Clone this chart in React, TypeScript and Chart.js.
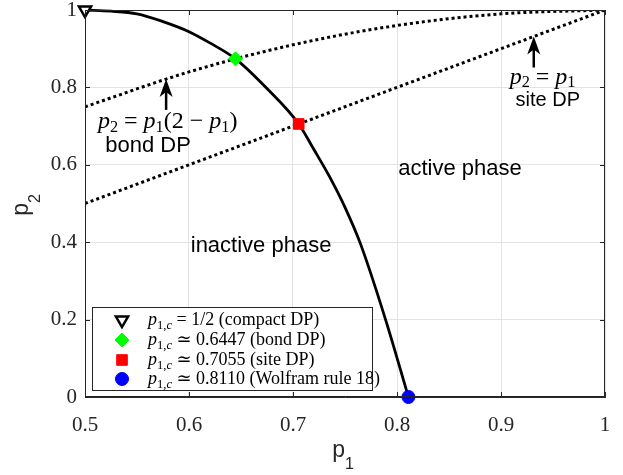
import React, { useEffect, useRef } from 'react';
import { Chart, registerables } from 'chart.js';

Chart.register(...registerables);

// ---- data ----
const boundaryP1 = [0.5, 0.525, 0.55, 0.575, 0.6, 0.62, 0.6447, 0.675, 0.7055, 0.72, 0.735, 0.75, 0.765, 0.789, 0.811];
const boundaryP2 = [1.0, 0.997, 0.99, 0.97, 0.944, 0.915, 0.8738, 0.797, 0.7055, 0.64, 0.57, 0.49, 0.395, 0.2, 0.0];
const bondP1 = [0.5, 0.6, 0.7, 0.8, 0.9, 1.0];
const bondP2 = [0.75, 0.84, 0.91, 0.96, 0.99, 1.0];
const siteP1 = [0.5, 1.0];
const siteP2 = [0.5, 1.0];
const critP1 = [0.5, 0.6447, 0.7055, 0.811];
const critP2 = [1.0, 0.8738, 0.7055, 0.0];
const critRel = [' = 1/2 (compact DP)', ' \u2243 0.6447 (bond DP)', ' \u2243 0.7055 (site DP)', ' \u2243 0.8110 (Wolfram rule 18)'];
const xTicks = [0.5, 0.6, 0.7, 0.8, 0.9, 1];
const yTicks = [0, 0.2, 0.4, 0.6, 0.8, 1];

const SERIF = '"Liberation Serif", "DejaVu Serif", serif';
const SANS = '"Liberation Sans", Arial, sans-serif';
const AXIS = '#262626';

const markerStyles = [
  { style: 'triangle', rotation: 180, r: 7, fill: '#ffffff', stroke: '#000000', bw: 2.5 },
  { style: 'rectRot', rotation: 0, r: 7, fill: '#00ff00', stroke: '#00ff00', bw: 1 },
  { style: 'rect', rotation: 0, r: 7.5, fill: '#ff0000', stroke: '#ff0000', bw: 1 },
  { style: 'circle', rotation: 0, r: 6.5, fill: '#0000ff', stroke: '#0000ff', bw: 1 },
];

type Seg = { t: string; it?: boolean; sub?: boolean };

function drawRich(ctx: CanvasRenderingContext2D, segs: Seg[], x: number, y: number, size: number, align: 'left' | 'center', family = SERIF, subRatio = 0.7, subDrop = 0.22) {
  const subSize = size * subRatio;
  const fontFor = (s: Seg) => `${s.it ? 'italic ' : ''}${s.sub ? subSize : size}px ${family}`;
  let w = 0;
  for (const s of segs) { ctx.font = fontFor(s); w += ctx.measureText(s.t).width; }
  let cx = align === 'center' ? x - w / 2 : x;
  ctx.textAlign = 'left';
  ctx.textBaseline = 'alphabetic';
  for (const s of segs) {
    ctx.font = fontFor(s);
    ctx.fillText(s.t, cx, s.sub ? y + size * subDrop : y);
    cx += ctx.measureText(s.t).width;
  }
}

function drawMarker(ctx: CanvasRenderingContext2D, i: number, cx: number, cy: number) {
  const m = markerStyles[i];
  ctx.save();
  ctx.fillStyle = m.fill;
  ctx.strokeStyle = m.stroke;
  ctx.lineWidth = m.bw;
  ctx.beginPath();
  if (m.style === 'triangle') {
    const r = m.r;
    ctx.moveTo(cx, cy + r);
    ctx.lineTo(cx - r * 0.866, cy - r / 2);
    ctx.lineTo(cx + r * 0.866, cy - r / 2);
    ctx.closePath();
  } else if (m.style === 'rectRot') {
    ctx.moveTo(cx, cy - m.r);
    ctx.lineTo(cx + m.r, cy);
    ctx.lineTo(cx, cy + m.r);
    ctx.lineTo(cx - m.r, cy);
    ctx.closePath();
  } else if (m.style === 'rect') {
    const s = m.r * Math.SQRT1_2;
    ctx.rect(cx - s, cy - s, 2 * s, 2 * s);
  } else {
    ctx.arc(cx, cy, m.r, 0, Math.PI * 2);
  }
  ctx.fill();
  ctx.stroke();
  ctx.restore();
}

function drawArrow(ctx: CanvasRenderingContext2D, tx: number, ty: number, len: number) {
  ctx.save();
  ctx.fillStyle = '#000';
  ctx.strokeStyle = '#000';
  ctx.lineWidth = 2.5;
  ctx.beginPath();
  ctx.moveTo(tx, ty + 12);
  ctx.lineTo(tx, ty + len);
  ctx.stroke();
  ctx.beginPath();
  ctx.moveTo(tx, ty);
  ctx.lineTo(tx - 6.5, ty + 18);
  ctx.lineTo(tx, ty + 13);
  ctx.lineTo(tx + 6.5, ty + 18);
  ctx.closePath();
  ctx.fill();
  ctx.restore();
}

const overlay = {
  id: 'overlay',
  afterDraw(chart: any) {
    const { ctx, chartArea: a, scales } = chart;
    const sx = scales.x;
    const sy = scales.y;
    ctx.save();
    // box + inward ticks
    ctx.strokeStyle = AXIS;
    ctx.lineWidth = 1;
    ctx.strokeRect(Math.round(a.left) + 0.5, Math.round(a.top) + 0.5, Math.round(a.right - a.left) - 1, Math.round(a.bottom - a.top) - 1);
    ctx.beginPath();
    for (const v of xTicks) {
      const px = Math.round(sx.getPixelForValue(v)) + 0.5;
      ctx.moveTo(px, a.bottom); ctx.lineTo(px, a.bottom - 5);
      ctx.moveTo(px, a.top); ctx.lineTo(px, a.top + 5);
    }
    for (const v of yTicks) {
      const py = Math.round(sy.getPixelForValue(v)) + 0.5;
      ctx.moveTo(a.left, py); ctx.lineTo(a.left + 5, py);
      ctx.moveTo(a.right, py); ctx.lineTo(a.right - 5, py);
    }
    ctx.stroke();

    ctx.fillStyle = '#000';
    // region labels
    ctx.textAlign = 'center';
    ctx.textBaseline = 'alphabetic';
    ctx.font = `22px ${SANS}`;
    ctx.fillText('active phase', sx.getPixelForValue(0.8605), sy.getPixelForValue(0.574));
    ctx.fillText('inactive phase', sx.getPixelForValue(0.6693), sy.getPixelForValue(0.375));
    ctx.fillText('bond DP', sx.getPixelForValue(0.5606), sy.getPixelForValue(0.633));
    ctx.font = `20px ${SANS}`;
    ctx.fillText('site DP', sx.getPixelForValue(0.945), sy.getPixelForValue(0.751));

    // math labels
    drawRich(ctx, [{ t: 'p', it: true }, { t: '2', sub: true }, { t: ' = ' }, { t: 'p', it: true }, { t: '1', sub: true }, { t: '(2 \u2212 ' }, { t: 'p', it: true }, { t: '1', sub: true }, { t: ')' }],
      sx.getPixelForValue(0.5795), sy.getPixelForValue(0.695), 24, 'center', SERIF, 0.68, 0.16);
    drawRich(ctx, [{ t: 'p', it: true }, { t: '2', sub: true }, { t: ' = ' }, { t: 'p', it: true }, { t: '1', sub: true }],
      sx.getPixelForValue(0.94), sy.getPixelForValue(0.81), 24, 'center', SERIF, 0.68, 0.16);

    // arrows (tip on the lines)
    drawArrow(ctx, sx.getPixelForValue(0.578), sy.getPixelForValue(0.822), 31);
    drawArrow(ctx, sx.getPixelForValue(0.9315), sy.getPixelForValue(0.9315), 31);

    // legend
    const lx = 92, ly = 307, lw = 280, lh = 83;
    ctx.fillStyle = '#ffffff';
    ctx.fillRect(lx, ly, lw, lh);
    ctx.strokeStyle = '#262626';
    ctx.lineWidth = 1;
    ctx.strokeRect(lx + 0.5, ly + 0.5, lw, lh);
    const rows = [320, 340, 360, 379];
    for (let i = 0; i < critRel.length; i++) {
      drawMarker(ctx, i, 122, rows[i]);
      ctx.fillStyle = '#000';
      drawRich(ctx, [{ t: 'p', it: true }, { t: '1,', sub: true }, { t: 'c', sub: true, it: true }, { t: critRel[i] }], 148, rows[i] + 5, 18, 'left');
    }

    // axis titles
    ctx.fillStyle = AXIS;
    drawRich(ctx, [{ t: 'p' }, { t: '1', sub: true }], 343, 457, 23, 'center', SANS, 0.7, 0.52);
    ctx.translate(28, 205);
    ctx.rotate(-Math.PI / 2);
    drawRich(ctx, [{ t: 'p' }, { t: '2', sub: true }], 0, 0, 23, 'center', SANS, 0.7, 0.52);
    ctx.restore();
  },
};

export default function App() {
  const ref = useRef<HTMLCanvasElement | null>(null);
  useEffect(() => {
    if (!ref.current) return;
    const pt = (xs: number[], ys: number[]) => xs.map((x, i) => ({ x, y: ys[i] }));
    const markerSets = critP1.map((x, i) => ({
      type: 'scatter' as const,
      data: [{ x, y: critP2[i] }],
      pointStyle: markerStyles[i].style,
      rotation: markerStyles[i].rotation,
      pointRadius: markerStyles[i].r,
      pointBackgroundColor: markerStyles[i].fill,
      pointBorderColor: markerStyles[i].stroke,
      pointBorderWidth: markerStyles[i].bw,
      showLine: false,
      clip: false as any,
      order: 0,
    }));
    const chart = new Chart(ref.current, {
      type: 'scatter',
      data: {
        datasets: [
          {
            data: pt(boundaryP1, boundaryP2), showLine: true, borderColor: '#000', borderWidth: 2.8,
            pointRadius: 0, cubicInterpolationMode: 'monotone', order: 1, clip: false as any,
          },
          {
            data: pt(bondP1, bondP2), showLine: true, borderColor: '#000', borderWidth: 3, borderDash: [3, 3],
            pointRadius: 0, cubicInterpolationMode: 'monotone', order: 2,
          },
          {
            data: pt(siteP1, siteP2), showLine: true, borderColor: '#000', borderWidth: 3, borderDash: [3, 3],
            pointRadius: 0, order: 2,
          },
          ...markerSets,
        ] as any,
      },
      options: {
        responsive: false,
        animation: false,
        events: [],
        layout: { padding: { top: 10, right: 18, left: 0, bottom: 0 } },
        plugins: { legend: { display: false }, tooltip: { enabled: false } },
        scales: {
          x: {
            type: 'linear', min: 0.5, max: 1,
            afterBuildTicks: (s: any) => { s.ticks = xTicks.map((v) => ({ value: v })); },
            afterFit: (s: any) => { s.height = 78; s.paddingLeft = 0; s.paddingRight = 0; },
            ticks: {
              font: { family: SERIF, size: 21 }, color: AXIS, padding: 16, maxRotation: 0, autoSkip: false,
              callback: (v: any) => String(+Number(v).toFixed(1)),
            },
            grid: { color: '#e3e3e3', drawTicks: false },
            border: { color: AXIS },
          },
          y: {
            type: 'linear', min: 0, max: 1,
            afterBuildTicks: (s: any) => { s.ticks = yTicks.map((v) => ({ value: v })); },
            afterFit: (s: any) => { s.width = 85; s.paddingTop = 0; s.paddingBottom = 0; },
            ticks: {
              font: { family: SERIF, size: 21 }, color: AXIS, padding: 8, autoSkip: false,
              callback: (v: any) => String(+Number(v).toFixed(1)),
            },
            grid: { color: '#e3e3e3', drawTicks: false },
            border: { color: AXIS },
          },
        },
      } as any,
      plugins: [overlay],
    });
    return () => chart.destroy();
  }, []);
  return (
    <div style={{ position: 'fixed', left: 0, top: 0, width: 623, height: 475, background: '#fff' }}>
      <canvas ref={ref} width={623} height={475} style={{ display: 'block' }} />
    </div>
  );
}
